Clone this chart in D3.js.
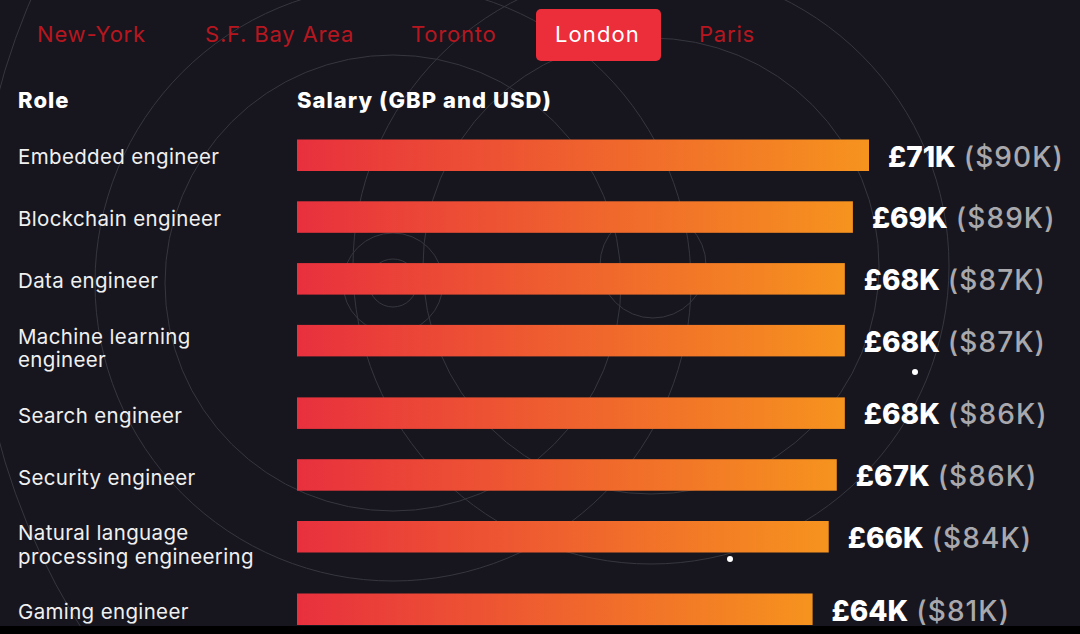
<!DOCTYPE html>
<html>
<head>
<meta charset="utf-8">
<script src="https://cdn.jsdelivr.net/npm/d3@7"></script>
<style>
html, body { margin: 0; padding: 0; background: #000; overflow: hidden; }
text { font-family: Inter, "Open Sans", sans-serif; }
</style>
</head>
<body>
<div class="canvas"></div>
<script>
const tabs = ["New-York", "S.F. Bay Area", "Toronto", "London", "Paris"];
const roles = [
  ["Embedded engineer"],
  ["Blockchain engineer"],
  ["Data engineer"],
  ["Machine learning", "engineer"],
  ["Search engineer"],
  ["Security engineer"],
  ["Natural language", "processing engineering"],
  ["Gaming engineer"]
];
const gbp = [71, 69, 68, 68, 68, 67, 66, 64];
const usd = [90, 89, 87, 87, 86, 86, 84, 81];

const width = 1080, height = 634, panelH = 626;

const svg = d3.select(".canvas").append("svg")
  .attr("width", width)
  .attr("height", height)
  .style("display", "block");

svg.append("rect").attr("width", width).attr("height", height).attr("fill", "#000");

const defs = svg.append("defs");
defs.append("clipPath").attr("id", "panel")
  .append("rect").attr("width", width).attr("height", panelH);

const grad = defs.append("linearGradient").attr("id", "barGrad");
grad.append("stop").attr("offset", "0%").attr("stop-color", "#e8303e");
grad.append("stop").attr("offset", "100%").attr("stop-color", "#f6931e");

const g = svg.append("g").attr("clip-path", "url(#panel)");
g.append("rect").attr("width", width).attr("height", panelH).attr("fill", "#17161f");

// faint background rings, two concentric families
const rings = [
  [393, 283, 24], [393, 283, 50], [393, 283, 228], [393, 283, 298],
  [653, 265, 53], [651, 266, 228], [651, 266, 298], [651, 266, 675]
];
g.append("g").selectAll("circle").data(rings).join("circle")
  .attr("cx", d => d[0]).attr("cy", d => d[1]).attr("r", d => d[2])
  .attr("fill", "none").attr("stroke", "#36363e").attr("stroke-width", 1);

// tabs
const tabX = d3.scaleOrdinal().domain(tabs).range([37, 205, 411, 555, 699]);
g.append("rect").attr("x", 536).attr("y", 9).attr("width", 125).attr("height", 52).attr("rx", 5).attr("fill", "#ec2d3a");
g.append("g").selectAll("text").data(tabs).join("text")
  .attr("x", d => tabX(d)).attr("y", 42)
  .attr("fill", d => d === "London" ? "#fff" : "#b8161f")
  .style("font-size", "22px")
  .style("letter-spacing", d => d === "London" ? "1.1px" : "0.8px")
  .text(d => d);

// header
g.append("text").attr("x", 18).attr("y", 108).attr("fill", "#fff")
  .style("font-size", "22px").style("font-weight", 800).style("letter-spacing", "1.05px").text("Role");
g.append("text").attr("x", 297).attr("y", 108).attr("fill", "#fff")
  .style("font-size", "22px").style("font-weight", 800).style("letter-spacing", "1.05px").text("Salary (GBP and USD)");

// rows: two line labels make the row taller
const rowTop = [];
let cur = 139.5;
roles.forEach(r => { rowTop.push(cur); cur += r.length > 1 ? 72.5 : 61.8; });

const x = d3.scaleLinear().domain([0, 71]).range([297, 869]);

const row = g.append("g").selectAll("g").data(roles).join("g")
  .attr("transform", (d, i) => `translate(0,${rowTop[i]})`);

row.append("rect")
  .attr("x", x(0))
  .attr("width", (d, i) => x(gbp[i]) - x(0))
  .attr("height", 31.5)
  .attr("fill", "url(#barGrad)");

row.each(function (lines, i) {
  const two = lines.length > 1;
  d3.select(this).selectAll(".role").data(lines).join("text")
    .attr("class", "role")
    .attr("x", 18)
    .attr("y", (d, j) => two ? 19 + j * 23.5 : (i > 3 ? 25.5 : 24.5))
    .attr("fill", "#f0f0f0")
    .style("font-size", "20.5px")
    .style("letter-spacing", "0.35px")
    .text(d => d);
});

const val = row.append("text")
  .attr("x", (d, i) => x(gbp[i]) + 19)
  .attr("y", 27)
  .style("font-size", "28px");
val.append("tspan").attr("fill", "#fff").style("font-weight", 800).text((d, i) => `£${gbp[i]}K`);
val.append("tspan").attr("fill", "#a9a9ad").attr("dx", 8).style("font-weight", 500).style("letter-spacing", "1.1px").text((d, i) => `($${usd[i]}K)`);

// two stray dots
const dots = [[915, 372], [730, 559]];
g.append("g").selectAll("circle").data(dots).join("circle")
  .attr("cx", d => d[0]).attr("cy", d => d[1]).attr("r", 3).attr("fill", "#fff");
</script>
</body>
</html>
